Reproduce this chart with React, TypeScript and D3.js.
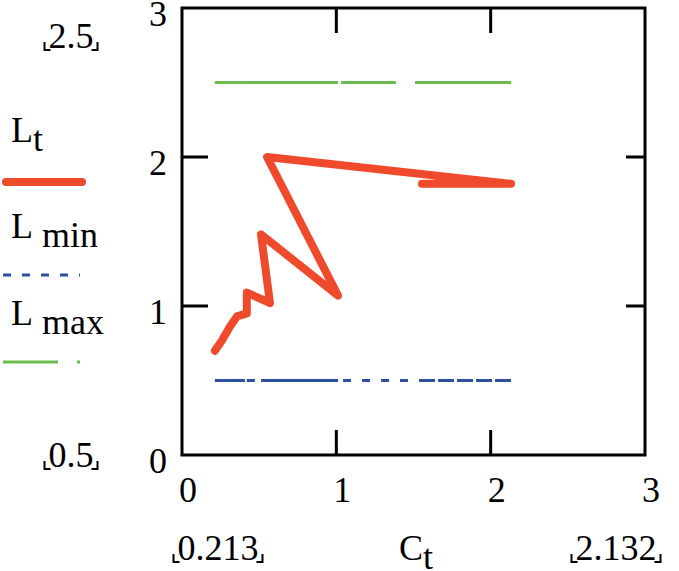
import * as d3 from "d3";

// values
const ct = [0.213, 0.26, 0.31, 0.356, 0.42, 0.42, 0.57, 0.512, 1.011, 0.551, 2.132, 1.555];
const lt = [0.7, 0.77, 0.86, 0.93, 0.95, 1.09, 1.02, 1.48, 1.07, 2.0, 1.82, 1.82];
const lmin = [0.5, 0.5, 0.5, 0.5, 0.5, 0.5, 0.5, 0.5, 0.5, 0.5, 0.5, 0.5];
const lmax = [2.5, 2.5, 2.5, 2.5, 2.5, 2.5, 2.5, 2.5, 2.5, 2.5, 2.5, 2.5];
const ticks = [0, 1, 2, 3];
const limitY = ["2.5", "0.5"];
const limitX = ["0.213", "2.132"];

const W = 679;
const H = 571;
const FONT = "Liberation Serif";
const FS = 36;
const RED = "#ef4a2b";
const BLUE = "#2d4f9e";
const GREEN = "#6bbb4d";
const DASH_MIN = "8 11";
const DASH_MAX = "55 19";

const x = d3.scaleLinear().domain([0, 3]).range([182, 645]);
const y = d3.scaleLinear().domain([0, 3]).range([455, 8]);

const line = d3
  .line<number>()
  .x((_, i) => x(ct[i]))
  .y((d) => y(d));

// Times digits are 0.5em, the point 0.25em
const textWidth = (s: string) =>
  s.split("").reduce((w, c) => w + (c === "." ? 0.25 : 0.5), 0) * FS;

// text framed by Mathcad-style corner brackets
function Bracketed({ label, cx, by }: { label: string; cx: number; by: number }) {
  const w = textWidth(label);
  const l = cx - w / 2 - 4;
  const r = cx + w / 2 + 4;
  const b = by + 2;
  return (
    <g>
      <text x={cx} y={by} fontFamily={FONT} fontSize={FS} textAnchor="middle">{label}</text>
      <path
        d={`M${l},${b - 8}V${b}H${l + 6}M${r},${b - 8}V${b}H${r - 6}`}
        fill="none"
        stroke="black"
        strokeWidth={2}
      />
    </g>
  );
}

// dashed series: the dash pattern restarts on every segment
function DashedSeries({ vals, color, dash }: { vals: number[]; color: string; dash: string }) {
  return (
    <g>
      {vals.slice(0, -1).map((v, i) => (
        <line
          key={i}
          x1={x(ct[i])}
          y1={y(v)}
          x2={x(ct[i + 1])}
          y2={y(vals[i + 1])}
          stroke={color}
          strokeWidth={3}
          strokeDasharray={dash}
        />
      ))}
    </g>
  );
}

const legend = [
  { sub: "t", base: 142, ly: 182, color: RED, w: 8, dash: undefined as string | undefined, round: true },
  { sub: "\u00a0min", base: 238, ly: 275, color: BLUE, w: 3, dash: DASH_MIN, round: false },
  { sub: "\u00a0max", base: 325, ly: 362, color: GREEN, w: 3, dash: DASH_MAX, round: false },
];

export default function App() {
  return (
    <svg
      width={W}
      height={H}
      fontFamily={FONT}
      style={{ position: "absolute", left: 0, top: 0, background: "white" }}
    >
      <DashedSeries vals={lmin} color={BLUE} dash={DASH_MIN} />
      <DashedSeries vals={lmax} color={GREEN} dash={DASH_MAX} />
      <path
        d={line(lt) ?? ""}
        fill="none"
        stroke={RED}
        strokeWidth={8}
        strokeLinejoin="round"
        strokeLinecap="round"
      />

      <g stroke="black" strokeWidth={3}>
        <rect x={x(0)} y={y(3)} width={x(3) - x(0)} height={y(0) - y(3)} fill="none" />
        {ticks.slice(1, 3).map((t) => (
          <g key={t}>
            <line x1={x(0)} x2={x(0) + 26} y1={y(t)} y2={y(t)} />
            <line x1={x(3)} x2={x(3) - 19} y1={y(t)} y2={y(t)} />
            <line x1={x(t)} x2={x(t)} y1={y(0)} y2={y(0) - 25} />
            <line x1={x(t)} x2={x(t)} y1={y(3)} y2={y(3) + 25} />
          </g>
        ))}
      </g>

      {ticks.map((t) => (
        <g key={t}>
          <text x={167} y={y(t) + 18} fontFamily={FONT} fontSize={FS} textAnchor="end">{String(t)}</text>
          <text x={x(t) + 6} y={502} fontFamily={FONT} fontSize={FS} textAnchor="middle">{String(t)}</text>
        </g>
      ))}

      <Bracketed label={limitY[0]} cx={71} by={48} />
      <Bracketed label={limitY[1]} cx={71} by={467} />
      <Bracketed label={limitX[0]} cx={218} by={560} />
      <Bracketed label={limitX[1]} cx={616} by={560} />

      <text x={399} y={560} fontFamily={FONT} fontSize={FS}>
        C<tspan dy={9}>t</tspan>
      </text>

      {legend.map((d) => (
        <g key={d.sub}>
          <text x={11} y={d.base} fontFamily={FONT} fontSize={FS}>
            L<tspan dy={9}>{d.sub}</tspan>
          </text>
          <line
            x1={d.round ? 6 : 3}
            x2={d.round ? 82 : 80}
            y1={d.ly}
            y2={d.ly}
            stroke={d.color}
            strokeWidth={d.w}
            strokeLinecap={d.round ? "round" : "butt"}
            strokeDasharray={d.dash}
          />
        </g>
      ))}
    </svg>
  );
}
